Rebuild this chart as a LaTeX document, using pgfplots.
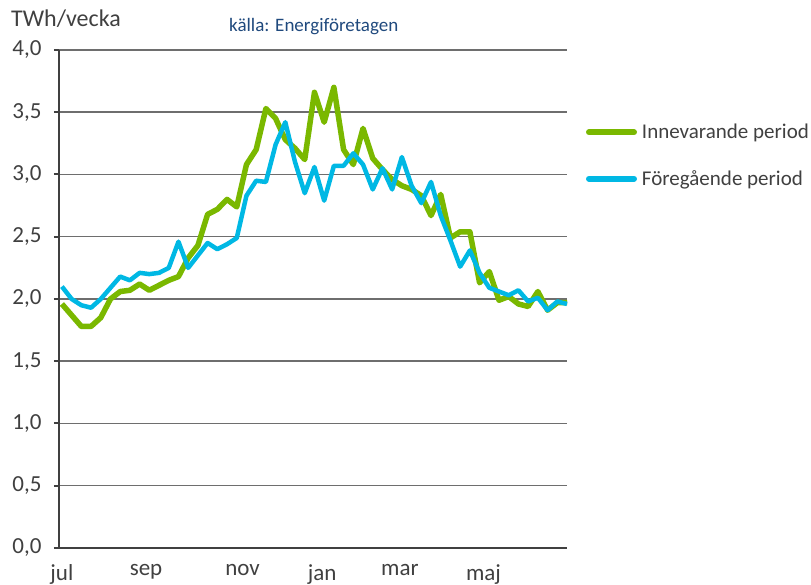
\documentclass[border=0pt]{standalone}
\usepackage{fontspec}
\setmainfont{Carlito}
\usepackage{pgfplots}
\pgfplotsset{compat=1.18}
\definecolor{grn}{RGB}{122,184,0}
\definecolor{blu}{RGB}{0,184,228}
\definecolor{txt}{RGB}{64,64,64}
\definecolor{grd}{RGB}{110,110,110}
\definecolor{src}{RGB}{31,73,125}
\pgfplotstableread{
x g b
0 1.96 2.10
1 1.87 2.00
2 1.78 1.95
3 1.78 1.93
4 1.85 2.00
5 2.00 2.09
6 2.06 2.18
7 2.07 2.15
8 2.12 2.21
9 2.07 2.20
10 2.11 2.21
11 2.15 2.25
12 2.18 2.46
13 2.33 2.25
14 2.43 2.35
15 2.68 2.45
16 2.72 2.40
17 2.80 2.44
18 2.74 2.49
19 3.08 2.83
20 3.20 2.95
21 3.53 2.94
22 3.45 3.24
23 3.28 3.42
24 3.21 3.10
25 3.12 2.85
26 3.66 3.06
27 3.42 2.79
28 3.70 3.07
29 3.20 3.07
30 3.08 3.17
31 3.37 3.08
32 3.13 2.88
33 3.04 3.05
34 2.96 2.88
35 2.91 3.14
36 2.88 2.91
37 2.83 2.77
38 2.67 2.94
39 2.84 2.67
40 2.49 2.47
41 2.54 2.26
42 2.54 2.39
43 2.13 2.21
44 2.22 2.09
45 1.99 2.06
46 2.02 2.03
47 1.96 2.07
48 1.94 1.98
49 2.06 2.01
50 1.91 1.91
51 1.97 1.98
52 1.97 1.96
}\data
\begin{document}
\begin{tikzpicture}
\useasboundingbox (-59bp,-37bp) rectangle (752bp,548bp);
\begin{axis}[
  scale only axis, width=508bp, height=498bp,
  at={(0,0)}, anchor=south west,
  xmin=-0.3, xmax=52, ymin=0, ymax=4,
  ytick={0,0.5,...,4},
  xtick={0,8.66,18.6,26.8,34.8,43.4},
  xticklabels={jul,sep,nov,jan,mar,maj},
  ymajorgrids, grid style={grd, line width=1.5bp},
  axis x line*=bottom, axis y line*=left,
  axis line style={txt, line width=2.5bp, -},
  tick align=outside, major tick length=5bp,
  ytick style={txt, line width=2bp},
  xtick style={draw=none},
  /pgf/number format/assume math mode=true,
  /pgf/number format/.cd, use comma, fixed, fixed zerofill, precision=1, /pgfplots/.cd,
  tick label style={font=\fontsize{23bp}{26bp}\selectfont, text=txt},
  yticklabel style={xshift=-9bp},
  xticklabel style={yshift=-8bp},
  clip=false,
  legend style={draw=none, fill=none, at={(1.037,0.855)}, anchor=north west,
    font=\fontsize{21bp}{25bp}\selectfont, text=txt, row sep=26bp,
    inner sep=0pt, /tikz/every even column/.append style={column sep=0pt}},
  legend cell align=left,
  legend image code/.code={\draw[#1, line width=6bp, line cap=round] (0bp,0bp) -- (45bp,0bp);},
]
\addplot[grn, line width=5.5bp, line join=round] table[x=x,y=g]{\data};
\addlegendentry{\hspace{3bp}Innevarande period}
\addplot[blu, line width=4.5bp, line join=round] table[x=x,y=b]{\data};
\addlegendentry{\hspace{3bp}Föregående period}
\end{axis}
\node[anchor=base west, text=txt, font=\fontsize{24bp}{28bp}\selectfont, inner sep=0pt] at (-48bp,521bp) {TWh/vecka};
\node[anchor=base west, text=src, font=\fontsize{19bp}{22bp}\selectfont, inner sep=0pt] at (170bp,516bp) {källa: Energiföretagen};
\end{tikzpicture}
\end{document}
